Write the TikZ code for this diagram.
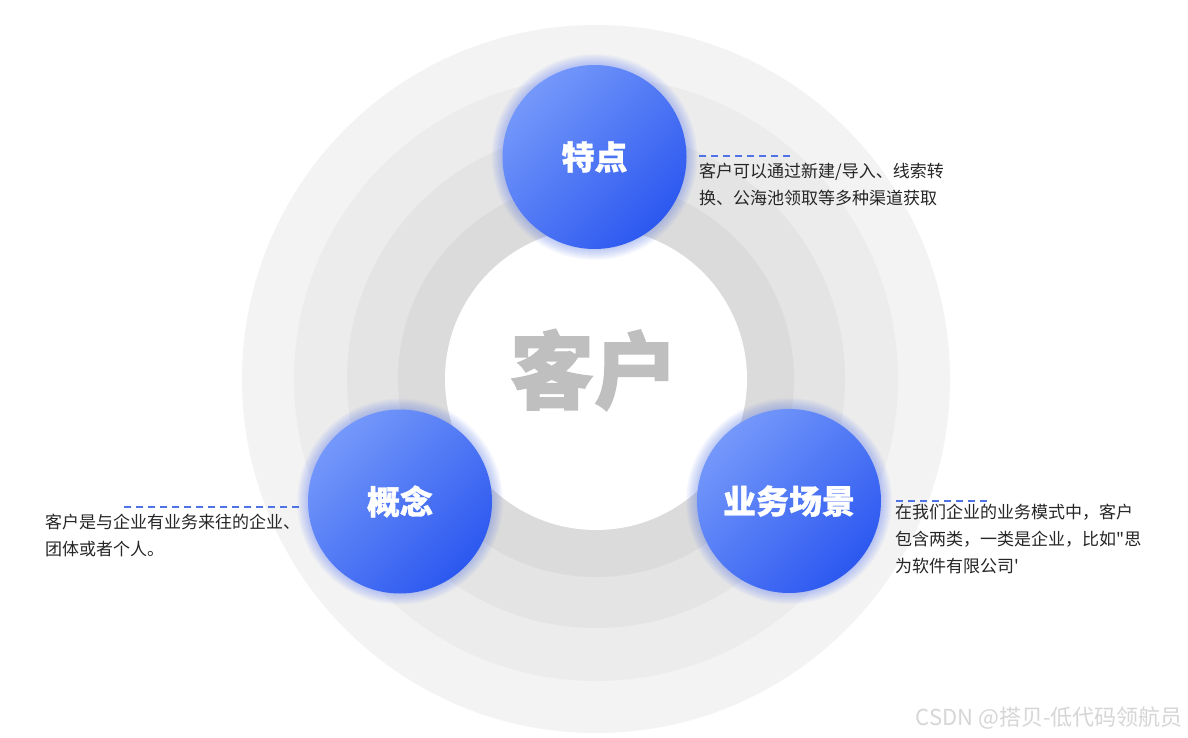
\documentclass[tikz,border=0pt]{standalone}
\usepackage{fontspec}
\newfontfamily\cjk{Noto Sans CJK SC}
\usetikzlibrary{positioning,backgrounds}
\definecolor{cRingA}{HTML}{F3F3F3}
\definecolor{cRingB}{HTML}{ECECEC}
\definecolor{cRingC}{HTML}{E4E4E4}
\definecolor{cRingD}{HTML}{DBDBDB}
\definecolor{cBlueL}{HTML}{7498FA}
\definecolor{cBlueD}{HTML}{2C58F0}
\definecolor{cGlow}{HTML}{5C7CF2}
\definecolor{cDash}{HTML}{4F72E6}
\definecolor{cTitle}{HTML}{BFBFBF}
\definecolor{cInk}{HTML}{262626}
\definecolor{cMark}{HTML}{D6D6D6}

\begin{document}
\begin{tikzpicture}[
  x=1pt, y=-1pt,
  font=\cjk,
  bubble/.style={circle, minimum size=184pt, inner sep=0pt,
                 top color=cBlueL, bottom color=cBlueD, shading angle=45,
                 text=white, font=\cjk\bfseries\addfontfeature{FakeBold=1}\fontsize{33}{33}\selectfont},
  desc/.style={anchor=north west, inner sep=0pt, align=left, text=cInk,
               font=\cjk\fontsize{17}{27}\selectfont},
  dashline/.style={draw=cDash, line width=1.1pt, dash pattern=on 7pt off 5pt},
  glow/.style={fill=cGlow, opacity=0.04},
  ttl/.style={text=cTitle, inner sep=0pt,
              font=\cjk\bfseries\addfontfeature{FakeBold=1.5}\fontsize{84}{84}\selectfont},
]
\useasboundingbox (0,0) rectangle (1188,738);
\fill[white] (0,0) rectangle (1188,738);

% ---------- Rings ----------
\coordinate (ctr) at (596,379);
\fill[cRingA] (ctr) circle[radius=354];
\fill[cRingB] (ctr) circle[radius=302];
\fill[cRingC] (ctr) circle[radius=249];
\fill[cRingD] (ctr) circle[radius=198];
\node[circle, fill=white, minimum size=302pt, inner sep=0pt] (core) at (ctr) {};
\node[ttl] (title) at (594,370) {客户};

% ---------- Bubbles ----------
\coordinate (pFeat) at (594.5,157);
\coordinate (pConcept) at (400,501.5);
\coordinate (pScene) at (789,501);
\foreach \p in {pFeat,pConcept,pScene}
  \foreach \g in {1,...,12}
    \fill[glow] (\p) circle[radius=91+\g];

\node[bubble] (feat) at (pFeat) {特点};
\node[bubble] (concept) at (pConcept) {概念};
\node[bubble] (scene) at (pScene) {业务场景};

% ---------- Descriptions ----------
\node[desc] (tFeat) at (699,163)
  {客户可以通过新建/导入、线索转\\换、公海池领取等多种渠道获取};
\node[desc] (tConcept) at (45,514)
  {客户是与企业有业务来往的企业、\\团体或者个人。};
\node[desc] (tScene) at (895,504)
  {在我们企业的业务模式中，客户\\包含两类，一类是企业，比如"思\\为软件有限公司'};

\draw[dashline] ([yshift=7pt]tFeat.north west) -- ++(94,0);
\draw[dashline] ([xshift=-1pt,yshift=7pt]tConcept.north east) -- ++(-176,0);
\draw[dashline] ([xshift=1pt,yshift=3pt]tScene.north west) -- ++(94,0);

% ---------- Watermark ----------
\node[anchor=east, inner sep=0pt, text=cMark, font=\cjk\fontsize{22}{22}\selectfont]
  (mark) at (1183,718) {CSDN @搭贝-低代码领航员};

\end{tikzpicture}
\end{document}
